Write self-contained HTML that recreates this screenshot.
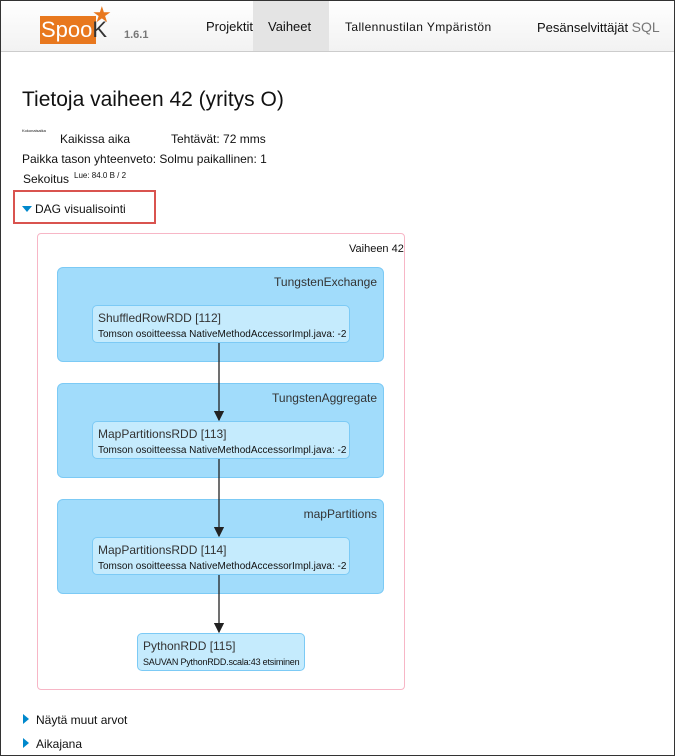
<!DOCTYPE html>
<html><head><meta charset="utf-8"><style>
body{margin:0;width:675px;height:756px;position:relative;overflow:hidden;font-family:"Liberation Sans",sans-serif;background:#fff;color:#111}
.a{position:absolute;white-space:nowrap}
.frame{position:absolute;left:0;top:0;width:673px;height:754px;border:1px solid #333}
.hdr{position:absolute;left:1px;top:1px;width:673px;height:50px;background:linear-gradient(#fff,#f2f2f2);border-bottom:1px solid #ccc}
.cl{position:absolute;background:#a1dcfb;border:1px solid #7ccaf5;border-radius:6px}
.nd{position:absolute;background:#c5ebfd;border:1px solid #7ccaf5;border-radius:5px}
.nd .t{position:absolute;left:5px;top:5px;font-size:12px;color:#333;white-space:nowrap}
.nd .s{position:absolute;left:5px;top:23px;font-size:10px;color:#111;white-space:nowrap}
.cl .t{position:absolute;right:6px;top:7px;font-size:12px;color:#333}
</style></head><body>
<div class="hdr"></div>
<div class="a" style="left:253px;top:1px;width:76px;height:50px;background:#e4e4e4"></div>
<div class="a" style="left:40px;top:16px;width:56px;height:28px;background:#e8781e"></div>
<div class="a" style="left:41px;top:17px;font-size:22px;color:#fff">Spoo<span style="color:#333">K</span></div>
<div class="a" style="left:92px;top:2px;font-size:22px;color:#e8781e">★</div>
<div class="a" style="left:124px;top:29px;font-size:11px;font-weight:bold;color:#777">1.6.1</div>
<div class="a" style="left:206px;top:19px;font-size:13px">Projektit</div>
<div class="a" style="left:268px;top:19px;font-size:13px">Vaiheet</div>
<div class="a" style="left:345px;top:20px;font-size:12px;letter-spacing:0.4px">Tallennustilan Ympäristön</div>
<div class="a" style="left:537px;top:19px;font-size:13px">Pesänselvittäjät <span style="color:#777;font-size:14px">SQL</span></div>
<div class="a" style="left:22px;top:88px;font-size:21px">Tietoja vaiheen 42 (yritys O)</div>
<div class="a" style="left:22px;top:128px;font-size:4px">Kokonaisaika</div>
<div class="a" style="left:60px;top:132px;font-size:12px">Kaikissa aika</div>
<div class="a" style="left:171px;top:132px;font-size:12px">Tehtävät: 72 mms</div>
<div class="a" style="left:22px;top:152px;font-size:12px">Paikka tason yhteenveto: Solmu paikallinen: 1</div>
<div class="a" style="left:23px;top:172px;font-size:12px">Sekoitus</div>
<div class="a" style="left:74px;top:171px;font-size:8px">Lue: 84.0 B / 2</div>
<div class="a" style="left:13px;top:190px;width:139px;height:30px;border:2px solid #d9534f"></div>
<div class="a" style="left:22px;top:206px;width:0;height:0;border-left:5px solid transparent;border-right:5px solid transparent;border-top:6px solid #0088cc"></div>
<div class="a" style="left:35px;top:202px;font-size:12px">DAG visualisointi</div>
<div class="a" style="left:37px;top:233px;width:366px;height:455px;border:1px solid #f7b6c6;border-radius:4px"></div>
<div class="a" style="left:349px;top:243px;font-size:11px">Vaiheen 42</div>
<div class="cl" style="left:57px;top:267px;width:325px;height:93px"><div class="t">TungstenExchange</div></div>
<div class="cl" style="left:57px;top:383px;width:325px;height:93px"><div class="t">TungstenAggregate</div></div>
<div class="cl" style="left:57px;top:499px;width:325px;height:93px"><div class="t">mapPartitions</div></div>
<svg class="a" style="left:0;top:0" width="675" height="756">
<defs><marker id="m" markerWidth="8" markerHeight="8" refX="7" refY="4" orient="auto"><path d="M0,0L8,4L0,8z" fill="#222"/></marker></defs>
<line x1="219" y1="341" x2="219" y2="420" stroke="#222" stroke-width="1.3" marker-end="url(#m)"/>
<line x1="219" y1="457" x2="219" y2="536" stroke="#222" stroke-width="1.3" marker-end="url(#m)"/>
<line x1="219" y1="573" x2="219" y2="632" stroke="#222" stroke-width="1.3" marker-end="url(#m)"/>
</svg>
<div class="nd" style="left:92px;top:305px;width:256px;height:36px"><div class="t">ShuffledRowRDD [112]</div><div class="s">Tomson osoitteessa NativeMethodAccessorImpl.java: -2</div></div>
<div class="nd" style="left:92px;top:421px;width:256px;height:36px"><div class="t">MapPartitionsRDD [113]</div><div class="s">Tomson osoitteessa NativeMethodAccessorImpl.java: -2</div></div>
<div class="nd" style="left:92px;top:537px;width:256px;height:36px"><div class="t">MapPartitionsRDD [114]</div><div class="s">Tomson osoitteessa NativeMethodAccessorImpl.java: -2</div></div>
<div class="nd" style="left:137px;top:633px;width:166px;height:36px"><div class="t">PythonRDD [115]</div><div class="s" style="font-size:9px;letter-spacing:-0.2px">SAUVAN PythonRDD.scala:43 etsiminen</div></div>
<div class="a" style="left:23px;top:714px;width:0;height:0;border-top:5px solid transparent;border-bottom:5px solid transparent;border-left:6px solid #0088cc"></div>
<div class="a" style="left:36px;top:713px;font-size:12px">Näytä muut arvot</div>
<div class="a" style="left:23px;top:738px;width:0;height:0;border-top:5px solid transparent;border-bottom:5px solid transparent;border-left:6px solid #0088cc"></div>
<div class="a" style="left:36px;top:737px;font-size:12px">Aikajana</div>
<div class="frame"></div>
</body></html>
